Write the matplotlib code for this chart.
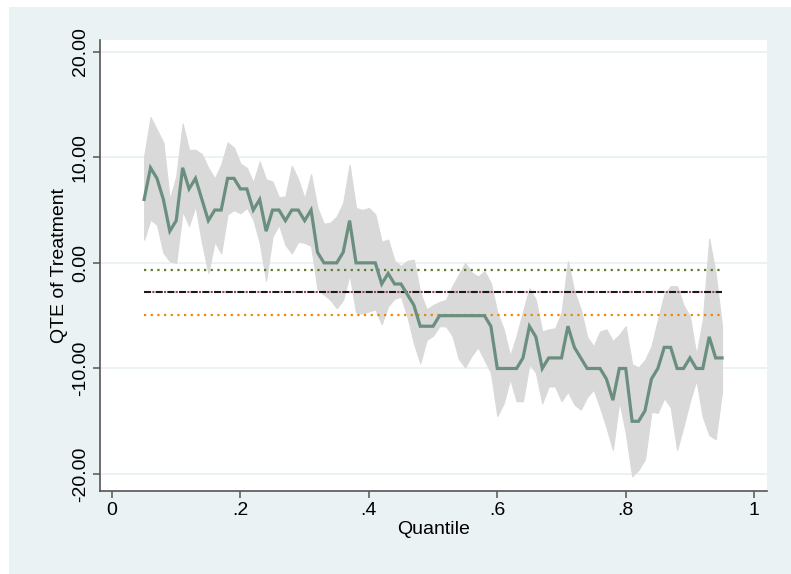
import matplotlib
matplotlib.use('Agg')
import matplotlib.pyplot as plt
import matplotlib.patches as mpatches

plt.rcParams['font.family'] = ['Liberation Sans', 'DejaVu Sans']

# quantile grid and estimated QTE with its confidence band
quantiles = [0.05, 0.06, 0.07, 0.08, 0.09, 0.10, 0.11, 0.12, 0.13, 0.14,
             0.15, 0.16, 0.17, 0.18, 0.19, 0.20, 0.21, 0.22, 0.23, 0.24,
             0.25, 0.26, 0.27, 0.28, 0.29, 0.30, 0.31, 0.32, 0.33, 0.34,
             0.35, 0.36, 0.37, 0.38, 0.39, 0.40, 0.41, 0.42, 0.43, 0.44,
             0.45, 0.46, 0.47, 0.48, 0.49, 0.50, 0.51, 0.52, 0.53, 0.54,
             0.55, 0.56, 0.57, 0.58, 0.59, 0.60, 0.61, 0.62, 0.63, 0.64,
             0.65, 0.66, 0.67, 0.68, 0.69, 0.70, 0.71, 0.72, 0.73, 0.74,
             0.75, 0.76, 0.77, 0.78, 0.79, 0.80, 0.81, 0.82, 0.83, 0.84,
             0.85, 0.86, 0.87, 0.88, 0.89, 0.90, 0.91, 0.92, 0.93, 0.94,
             0.95]
qte = [6, 9, 8, 6, 3, 4, 9, 7, 8, 6,
       4, 5, 5, 8, 8, 7, 7, 5, 6, 3,
       5, 5, 4, 5, 5, 4, 5, 1, 0, 0,
       0, 1, 4, 0, 0, 0, 0, -2, -1, -2,
       -2, -3, -4, -6, -6, -6, -5, -5, -5, -5,
       -5, -5, -5, -5, -6, -10, -10, -10, -10, -9,
       -6, -7, -10, -9, -9, -9, -6, -8, -9, -10,
       -10, -10, -11, -13, -10, -10, -15, -15, -14, -11,
       -10, -8, -8, -10, -10, -9, -10, -10, -7, -9,
       -9]
ci_upper = [10.1, 13.8, 12.6, 11.4, 6.0, 8.2, 13.2, 10.7, 10.7, 10.3,
            9.0, 8.0, 9.3, 11.4, 10.9, 9.4, 9.0, 7.6, 9.6, 7.9,
            7.7, 6.2, 6.3, 9.2, 7.9, 6.1, 8.4, 5.2, 3.7, 3.8,
            4.4, 5.7, 9.3, 5.2, 5.0, 5.2, 4.6, 2.0, 2.2, 0.2,
            -0.3, 0.2, 0.3, -2.8, -4.4, -4.0, -3.7, -3.5, -2.2, -1.1,
            0.0, -0.9, -1.3, -0.8, -1.9, -4.7, -6.3, -8.8, -6.9, -4.6,
            -2.4, -3.5, -6.5, -6.3, -6.2, -4.7, 0.15, -2.7, -4.4, -7.0,
            -7.9, -6.5, -6.3, -7.4, -6.8, -6.0, -9.6, -9.9, -9.2, -7.9,
            -5.4, -3.0, -2.2, -2.2, -4.0, -5.1, -8.7, -5.4, 2.3, -0.95,
            -6.0]
ci_lower = [2.2, 4.1, 3.6, 0.95, 0.15, 0.0, 4.9, 3.5, 5.4, 1.9,
            -0.95, 2.0, 0.9, 4.6, 5.0, 4.7, 5.2, 4.1, 1.9, -1.7,
            2.5, 3.6, 1.7, 0.9, 2.0, 1.9, 1.6, -2.5, -3.0, -3.5,
            -4.3, -3.5, -1.1, -4.7, -4.8, -4.6, -4.4, -5.8, -4.1, -3.4,
            -3.2, -5.1, -7.6, -9.5, -7.3, -6.9, -6.0, -6.0, -6.9, -9.1,
            -9.9, -8.8, -8.0, -9.2, -10.4, -14.5, -13.3, -11.0, -13.1, -13.1,
            -9.6, -10.4, -13.3, -11.7, -11.7, -13.1, -12.2, -13.4, -13.9, -12.7,
            -12.0, -13.7, -15.6, -17.7, -13.1, -16.1, -20.2, -19.6, -18.6, -14.1,
            -14.2, -12.8, -13.7, -17.7, -15.5, -13.1, -11.1, -14.6, -16.3, -16.7,
            -12.2]

# average effect and its bounds (horizontal reference lines)
ate_mean = -2.8
ate_upper = -0.7
ate_lower = -4.9

yticks = [-20, -10, 0, 10, 20]
xticks = [0, 0.2, 0.4, 0.6, 0.8, 1]
xticklabels = ['0', '.2', '.4', '.6', '.8', '1']

BG = '#eaf2f3'

fig = plt.figure(figsize=(7.91, 5.74), dpi=100)
fig.patch.set_facecolor('white')
bg = mpatches.Rectangle((9 / 791, 0), 1 - 9 / 791, 1 - 7 / 574,
                        transform=fig.transFigure, facecolor=BG,
                        edgecolor='none', zorder=-5)
fig.add_artist(bg)

ax = fig.add_axes([100 / 791, 1 - 491 / 574, 667 / 791, 451 / 574])
ax.set_zorder(1)
ax.set_facecolor('white')

ax.fill_between(quantiles, ci_lower, ci_upper, color='#d9d9d9',
                edgecolor='#d9d9d9', lw=0.8, zorder=2)
ax.plot(quantiles, qte, color='#6b8f7f', lw=2.3, zorder=4,
        solid_joinstyle='miter')

x_ends = [quantiles[0], quantiles[-1]]
ax.plot(x_ends, [ate_upper] * 2, color='#5b7d2b', lw=1.6,
        linestyle=(0, (1, 2.0)), zorder=3)
ax.plot(x_ends, [ate_lower] * 2, color='#e8890c', lw=1.6,
        linestyle=(0, (1, 2.0)), zorder=3)
ax.plot(x_ends, [ate_mean] * 2, color='#1a1a1a', lw=1.5,
        linestyle=(0, (3.4, 2.2)), zorder=3)
ax.plot(x_ends, [ate_mean] * 2, color='#a0404f', lw=1.5,
        linestyle=(1.6, (1.0, 4.6)), zorder=3)

ax.set_xlim(-0.0187, 1.02)
ax.set_ylim(-21.6, 21.1)
ax.set_yticks(yticks)
ax.set_yticklabels([f'{v:.2f}' for v in yticks], rotation=90, va='center')
ax.set_xticks(xticks)
ax.set_xticklabels(xticklabels)
ax.yaxis.grid(True, color=BG, lw=1.4)
ax.set_axisbelow(True)

for s in ['top', 'right']:
    ax.spines[s].set_visible(False)
for s in ['left', 'bottom']:
    ax.spines[s].set_color('#555555')
    ax.spines[s].set_linewidth(1.2)
ax.tick_params(axis='both', length=5, width=1.1, color='#555555',
               labelsize=14, pad=3, labelcolor='black')

ax.set_xlabel('Quantile', fontsize=14, labelpad=1)
ax.set_ylabel('QTE of Treatment', fontsize=14, labelpad=3)

fig.savefig('out.png', dpi=100, facecolor='white')
